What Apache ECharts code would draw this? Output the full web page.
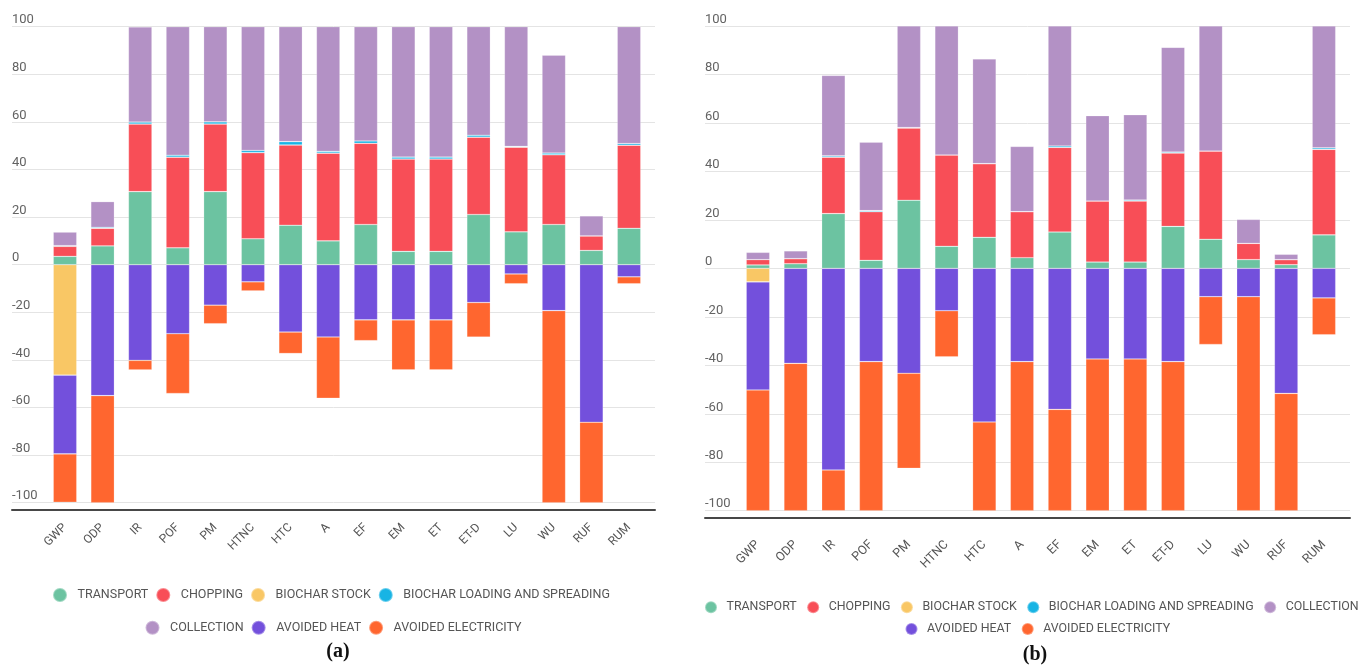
<!DOCTYPE html>
<html>
<head>
<meta charset="utf-8">
<script src="https://cdn.jsdelivr.net/npm/echarts@6/dist/echarts.min.js"></script>
<style>
  html, body { margin: 0; padding: 0; background: #ffffff; }
  #chart { width: 1358px; height: 668px; }
</style>
</head>
<body>
<div id="chart"></div>
<script>
// Impact categories on the x axis (same for both panels)
const categories = ['GWP', 'ODP', 'IR', 'POF', 'PM', 'HTNC', 'HTC', 'A', 'EF', 'EM', 'ET', 'ET-D', 'LU', 'WU', 'RUF', 'RUM'];

// Process contributions, panel (a), in %
const transportA   = [3.5, 7.9, 30.7, 7.1, 30.7, 10.9, 16.6, 10.0, 16.9, 5.6, 5.6, 21.1, 13.8, 16.9, 6.0, 15.3];
const choppingA    = [4.2, 7.4, 28.4, 38.1, 28.4, 36.2, 33.7, 36.9, 34.1, 38.8, 38.8, 32.5, 35.6, 29.3, 6.1, 34.9];
const stockA       = [-46.4, 0, 0, 0, 0, 0, 0, 0, 0, 0, 0, 0, 0, 0, 0, 0];
const loadingA     = [0.3, 0.4, 0.8, 0.8, 0.9, 0.9, 1.4, 0.7, 1.0, 0.8, 0.8, 0.8, 0.3, 0.7, 0, 0.7];
const collectionA  = [5.7, 10.8, 40.0, 54.0, 40.0, 52.0, 48.3, 52.4, 48.0, 54.8, 54.8, 45.6, 50.3, 41.1, 8.4, 49.1];
const heatA        = [-33.1, -55.0, -40.2, -29.0, -17.0, -7.2, -28.3, -30.4, -23.2, -23.2, -23.2, -15.9, -3.9, -19.3, -66.2, -5.1];
const electricityA = [-20.3, -45.0, -4.0, -25.1, -7.8, -3.8, -9.0, -25.7, -8.7, -21.0, -21.0, -14.5, -4.1, -80.7, -33.8, -2.9];

// Process contributions, panel (b), in %
const transportB   = [1.4, 1.9, 22.6, 3.3, 28.1, 9.1, 12.8, 4.4, 15.0, 2.6, 2.6, 17.3, 12.0, 3.6, 1.5, 13.8];
const choppingB    = [2.2, 2.1, 23.3, 20.1, 29.8, 37.7, 30.4, 19.0, 34.9, 25.2, 25.2, 30.3, 36.4, 6.7, 2.1, 35.3];
const stockB       = [-5.6, 0, 0, 0, 0, 0, 0, 0, 0, 0, 0, 0, 0, 0, 0, 0];
const loadingB     = [0, 0, 0.5, 0.4, 0.2, 0, 0, 0, 0.6, 0, 0.4, 0.4, 0, 0, 0, 0.6];
const collectionB  = [3.0, 3.2, 33.2, 28.3, 41.9, 53.2, 43.2, 26.9, 49.5, 35.2, 35.2, 43.2, 51.6, 9.9, 2.2, 50.3];
const heatB        = [-44.6, -39.2, -83.2, -38.5, -43.3, -17.5, -63.4, -38.5, -58.2, -37.4, -37.4, -38.5, -11.7, -11.7, -51.6, -12.2];
const electricityB = [-49.8, -60.8, -16.8, -61.5, -39.2, -19.0, -36.6, -61.5, -41.8, -62.6, -62.6, -61.5, -19.7, -88.3, -48.4, -15.2];

const seriesNames = ['TRANSPORT', 'CHOPPING', 'BIOCHAR STOCK', 'BIOCHAR LOADING AND SPREADING',
                     'COLLECTION', 'AVOIDED HEAT', 'AVOIDED ELECTRICITY'];
const seriesColors = ['#6cc3a1', '#f84e57', '#f9c765', '#18b4e4', '#b391c5', '#7350dc', '#ff662f'];

const panelA = [transportA, choppingA, stockA, loadingA, collectionA, heatA, electricityA];
const panelB = [transportB, choppingB, stockB, loadingB, collectionB, heatB, electricityB];

const FONT = 'Roboto, "Noto Sans", sans-serif';

// Two grids per panel: a wide one carrying the gridlines, value labels and base line,
// and an inner one carrying the stacked bars on the category axis.
const panels = [
  { bg: { left: 12,  top: 26.7, width: 643, height: 476 },
    bars: { left: 46.2,  top: 26.7, width: 601.6, height: 476 },
    labelMargin: 23, labelSize: 12 },
  { bg: { left: 705, top: 26,   width: 645, height: 484.7 },
    bars: { left: 739.1, top: 26,   width: 603.7, height: 484.7 },
    labelMargin: 32, labelSize: 12.5 }
];

const grid = [], xAxis = [], yAxis = [];
panels.forEach(p => {
  const gBg = grid.length;
  grid.push(p.bg);
  const gBars = grid.length;
  grid.push(p.bars);

  xAxis.push({
    type: 'value', gridIndex: gBg, min: 0, max: 1, offset: 7,
    axisLine: { show: true, onZero: false, lineStyle: { color: '#474747', width: 2 } },
    axisTick: { show: false }, axisLabel: { show: false }, splitLine: { show: false }
  });
  yAxis.push({
    type: 'value', gridIndex: gBg, min: -100, max: 100, interval: 20,
    axisLine: { show: false }, axisTick: { show: false },
    axisLabel: {
      inside: true, margin: 0, align: 'left', verticalAlign: 'bottom',
      padding: [0, 0, 0, 0], color: '#636363', fontSize: 13, fontFamily: FONT
    },
    splitLine: { show: true, lineStyle: { color: '#e4e4e4', width: 1 } }
  });

  xAxis.push({
    type: 'category', gridIndex: gBars, data: categories,
    axisLine: { show: false }, axisTick: { show: false },
    axisLabel: { rotate: 45, margin: p.labelMargin, interval: 0, color: '#555',
                 fontSize: p.labelSize, fontFamily: FONT }
  });
  yAxis.push({ type: 'value', gridIndex: gBars, min: -100, max: 100, show: false });
});

const series = [];
[panelA, panelB].forEach((panel, pi) => {
  panel.forEach((values, si) => {
    series.push({
      name: seriesNames[si],
      type: 'bar',
      stack: pi === 0 ? 'a' : 'b',
      xAxisIndex: pi * 2 + 1,
      yAxisIndex: pi * 2 + 1,
      barWidth: 23.5,
      data: values,
      itemStyle: { color: seriesColors[si], borderColor: 'rgba(255,255,255,0.35)', borderWidth: 0.6 },
      emphasis: { disabled: true }
    });
  });
});

// One legend component per row; the circle sits in a wider item box so the
// spacing between marker and text follows the legend layout.
function legendRow(names, left, centerY, opts) {
  return {
    data: names, left: left, top: centerY - 8, width: 900, orient: 'horizontal',
    icon: 'circle', itemWidth: opts.w, itemHeight: opts.h, itemGap: opts.gap,
    selectedMode: false,
    textStyle: { color: '#555', fontSize: opts.size, fontFamily: FONT }
  };
}

const legA = { w: 25, h: 14, gap: 7, size: 12.5 };
const legB = { w: 21, h: 12, gap: 9.5, size: 12.4 };
const legend = [
  legendRow(seriesNames.slice(0, 4), 47, 590, legA),
  legendRow(seriesNames.slice(4, 7), 139.5, 622.7, legA),
  legendRow(seriesNames.slice(0, 5), 699, 603.3, legB),
  legendRow(seriesNames.slice(5, 7), 899.5, 625, legB)
];

function panelTitle(letter, x, y) {
  return {
    text: '{p|(}{l|' + letter + '}{p|)}', left: x, top: y, textAlign: 'center',
    textStyle: {
      rich: {
        p: { fontFamily: '"Liberation Serif", serif', fontSize: 20, color: '#111' },
        l: { fontFamily: '"Liberation Serif", serif', fontSize: 20, fontWeight: 'bold', color: '#111' }
      }
    }
  };
}

const chart = echarts.init(document.getElementById('chart'), null, { renderer: 'canvas' });
chart.setOption({
  backgroundColor: '#ffffff',
  animation: false,
  title: [panelTitle('a', 333, 637), panelTitle('b', 1030, 640)],
  legend: legend,
  grid: grid,
  xAxis: xAxis,
  yAxis: yAxis,
  series: series
});
</script>
</body>
</html>
